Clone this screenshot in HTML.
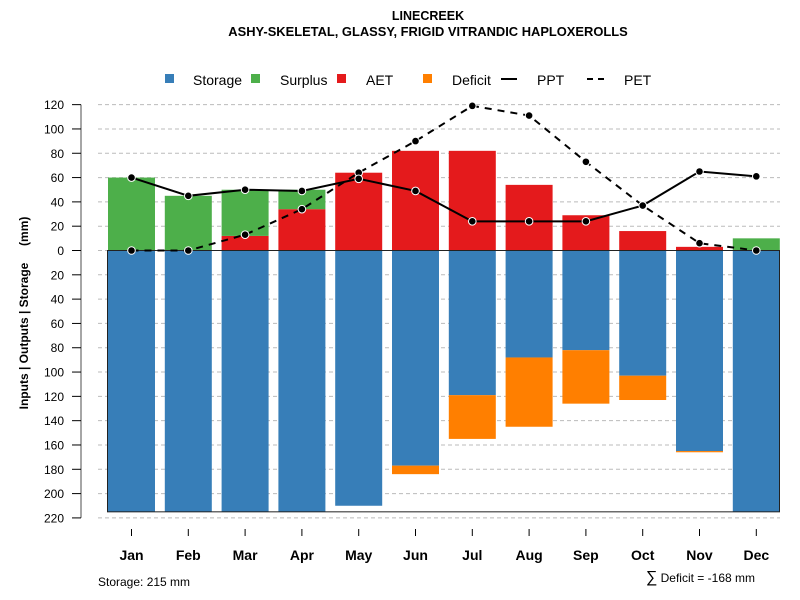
<!DOCTYPE html>
<html><head><meta charset="utf-8"><style>
body{margin:0;background:#fff;}
svg{display:block;font-family:"Liberation Sans",Arial,sans-serif;}
</style></head><body>
<svg id="chart" width="800" height="600">
<text x="428" y="20" text-anchor="middle" font-size="12.5" font-weight="bold">LINECREEK</text>
<text x="428" y="36" text-anchor="middle" font-size="12.9" font-weight="bold">ASHY-SKELETAL, GLASSY, FRIGID VITRANDIC HAPLOXEROLLS</text>
<g font-size="14">
<g><rect x="165" y="74" width="9" height="9" fill="#377eb8"/><text x="193" y="85">Storage</text></g>
<g><rect x="251" y="74" width="9" height="9" fill="#4daf4a"/><text x="280" y="85">Surplus</text></g>
<g><rect x="337" y="74" width="9" height="9" fill="#e41a1c"/><text x="366" y="85">AET</text></g>
<g><rect x="423" y="74" width="9" height="9" fill="#ff7f00"/><text x="452" y="85">Deficit</text></g>
<g><line x1="501" y1="79" x2="517" y2="79" stroke="#000" stroke-width="2"/><text x="537" y="85">PPT</text></g>
<g><line x1="587" y1="79" x2="608" y2="79" stroke="#000" stroke-width="2" stroke-dasharray="6,5"/><text x="624" y="85">PET</text></g>
</g>
<text transform="translate(28,313) rotate(-90)" text-anchor="middle" font-size="12" font-weight="bold" xml:space="preserve">Inputs | Outputs | Storage     (mm)</text>
<text x="98" y="586" font-size="12">Storage: 215 mm</text>
<text x="755" y="582" text-anchor="end" font-size="12"><tspan font-size="16">∑</tspan> Deficit = -168 mm</text>
<g id="plot"></g>
</svg>
<script>
const months=["Jan","Feb","Mar","Apr","May","Jun","Jul","Aug","Sep","Oct","Nov","Dec"];
const storage=[215,215,215,215,210,177,119,88,82,103,165,215];
const deficit=[0,0,0,0,0,7,36,57,44,20,1,0];
const aet=[0,0,12,34,64,82,82,54,29,16,3,0];
const surplus=[60,45,38,16,0,0,0,0,0,0,0,10];
const ppt=[60,45,50,49,59,49,24,24,24,37,65,61];
const pet=[0,0,13,34,64,90,119,111,73,37,6,0];
const yTicks=[120,100,80,60,40,20,0,20,40,60,80,100,120,140,160,180,200,220];
const maxStorage=215;

const NS="http://www.w3.org/2000/svg";
const g=document.getElementById('plot');
const y=v=>250.5-v*1.2155;
const xc=i=>131.5+i*56.8;
const bw=47;
function mk(t,a){const e=document.createElementNS(NS,t);for(const k in a)e.setAttribute(k,a[k]);g.appendChild(e);return e;}
let ax=mk('line',{x1:81,y1:y(120),x2:81,y2:y(-220),stroke:'#888','stroke-width':1.5});


yTicks.forEach((t,k)=>{
  const v=k<=6?t:-t;
  const gl=mk('line',{x1:98,y1:y(v),x2:780,y2:y(v),stroke:'#bbb','stroke-dasharray':'4,3'});
  
  
  const tk=mk('line',{x1:72,y1:y(v),x2:81,y2:y(v),stroke:'#000'});
  
  
  const tx=mk('text',{x:64,y:y(v)+4.5,'text-anchor':'end','font-size':12});
  tx.textContent=t;
  
  
});
months.forEach((m,i)=>{
  const x=xc(i);
  let r=mk('rect',{x:x-bw/2,y:y(0),width:bw,height:y(-storage[i])-y(0),fill:'#377eb8'});
  
  
  if(deficit[i]>0){
    r=mk('rect',{x:x-bw/2,y:y(-storage[i]),width:bw,height:y(-storage[i]-deficit[i])-y(-storage[i]),fill:'#ff7f00'});
    
    
  }
  if(aet[i]>0){
    r=mk('rect',{x:x-bw/2,y:y(aet[i]),width:bw,height:y(0)-y(aet[i]),fill:'#e41a1c'});
    
    
  }
  if(surplus[i]>0){
    r=mk('rect',{x:x-bw/2,y:y(aet[i]+surplus[i]),width:bw,height:y(aet[i])-y(aet[i]+surplus[i]),fill:'#4daf4a'});
    
    
  }
  const t=mk('line',{x1:x,y1:529,x2:x,y2:536,stroke:'#000'});
  
  
  const l=mk('text',{x:x,y:560,'text-anchor':'middle','font-size':14,'font-weight':'bold'});
  l.textContent=m;
  
  
});
let fr=mk('rect',{x:107.5,y:y(0),width:672,height:y(-maxStorage)-y(0),fill:'none',stroke:'#222','stroke-width':1});


function line(arr,name,dash){
  const p=mk('polyline',{points:arr.map((v,i)=>xc(i)+','+y(v)).join(' '),fill:'none',stroke:'#000','stroke-width':2});
  if(dash)p.setAttribute('stroke-dasharray','7,6');
  
  
  arr.forEach((v,i)=>{
    const c=mk('circle',{cx:xc(i),cy:y(v),r:3.8,fill:'#000',stroke:'#fff','stroke-width':1});
    
    
  });
}
line(pet,'pet',true);
line(ppt,'ppt',false);
</script>
</body></html>
